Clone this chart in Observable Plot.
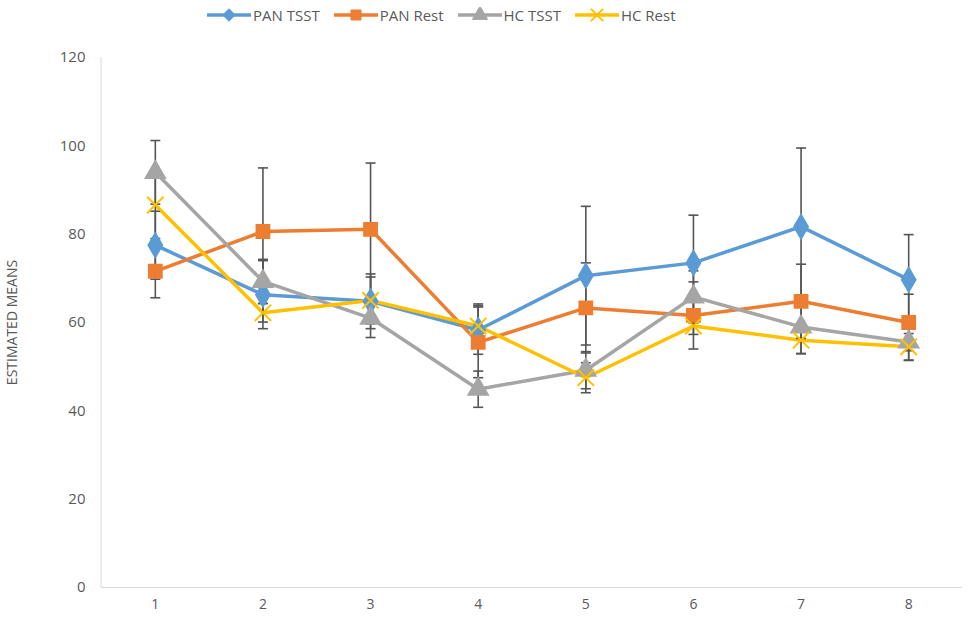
<!DOCTYPE html>
<html>
<head>
<meta charset="utf-8">
<script src="https://cdn.jsdelivr.net/npm/d3@7"></script>
<script src="https://cdn.jsdelivr.net/npm/@observablehq/plot@0.6"></script>
<style>
  html, body { margin: 0; padding: 0; background: #fff; }
  body { width: 976px; height: 617px; overflow: hidden; font-family: "Open Sans", "Liberation Sans", sans-serif; color: #595959; }
  #legend { height: 30px; display: flex; align-items: center; padding-left: 207px; box-sizing: border-box; font-size: 15px; }
  .item { display: flex; align-items: center; margin-right: 14px; }
  .item svg { margin-right: 2px; }
</style>
</head>
<body>
<div id="legend"></div>
<div id="chart"></div>
<script>
const categories = [1, 2, 3, 4, 5, 6, 7, 8];
const seriesNames = ["PAN TSST", "PAN Rest", "HC TSST", "HC Rest"];
const panTsst = [77.5, 66.3, 64.8, 58.3, 70.6, 73.5, 81.7, 69.7];
const panRest = [71.6, 80.6, 81.1, 55.5, 63.3, 61.6, 64.8, 60.0];
const hcTsst  = [94.0, 69.3, 61.0, 44.9, 49.2, 65.8, 59.0, 55.6];
const hcRest  = [86.6, 62.2, 65.0, 59.2, 47.5, 59.2, 56.0, 54.5];
const panTsstErr = [7.7, 7.7, 6.2, 5.5, 15.7, 10.8, 17.8, 10.2];
const panRestErr = [6.0, 14.4, 15.0, 8.0, 10.2, 7.6, 8.4, 6.4];
const hcTsstErr  = [7.2, 5.0, 4.4, 4.1, 4.2, 5.9, 6.1, 4.2];
const hcRestErr  = [7.6, 2.1, 5.3, 5.0, 3.4, 1.9, 3.0, 3.0];
const yTicks = [0, 20, 40, 60, 80, 100, 120];

const colors = ["#5B9BD5", "#ED7D31", "#A5A5A5", "#FFC000"];
const symbols = ["diamond", "square", "triangle", "times"];
const values = [panTsst, panRest, hcTsst, hcRest];
const errs = [panTsstErr, panRestErr, hcTsstErr, hcRestErr];

const data = [];
seriesNames.forEach((s, i) => {
  categories.forEach((c, j) => {
    data.push({series: s, x: c, y: values[i][j], lo: values[i][j] - errs[i][j], hi: values[i][j] + errs[i][j]});
  });
});

const capSymbol = {
  draw(context, size) {
    const w = 5;
    context.moveTo(-w, 0);
    context.lineTo(w, 0);
  }
};

const colorScale = {domain: seriesNames, range: colors};
const symbolScale = {domain: seriesNames, range: symbols};

const chart = Plot.plot({
  width: 976,
  height: 587,
  marginTop: 27,
  marginBottom: 30,
  marginLeft: 101,
  marginRight: 14,
  style: {fontFamily: "'Open Sans', 'Liberation Sans', sans-serif", fontSize: "15px", color: "#595959", background: "#fff"},
  x: {type: "point", domain: categories, padding: 0.5, round: false},
  y: {domain: [0, 120], ticks: yTicks},
  color: colorScale,
  symbol: symbolScale,
  marks: [
    Plot.ruleY([0], {stroke: "#d9d9d9", strokeWidth: 1}),
    Plot.axisY({ticks: yTicks, tickSize: 0, tickPadding: 16, label: null, fontSize: 15}),
    Plot.axisX({tickSize: 0, tickPadding: 12, label: null, fontSize: 14}),
    Plot.text(["ESTIMATED MEANS"], {frameAnchor: "left", textAnchor: "middle", rotate: -90, dx: -89, fontSize: 14, fill: "#595959"}),
    ...seriesNames.map((s, i) =>
      Plot.line(data.filter(d => d.series === s), {x: "x", y: "y", stroke: colors[i], strokeWidth: 3.5, strokeLinejoin: "round"})
    ),
    Plot.ruleX(data, {x: "x", y1: "lo", y2: "hi", stroke: "#555555", strokeWidth: 1.6}),
    Plot.dot(data, {x: "x", y: "lo", symbol: capSymbol, stroke: "#555555", strokeWidth: 1.6, fill: "none"}),
    Plot.dot(data, {x: "x", y: "hi", symbol: capSymbol, stroke: "#555555", strokeWidth: 1.6, fill: "none"}),
    Plot.dot(data.filter(d => d.series !== "HC Rest"), {x: "x", y: "y", symbol: "series", fill: "series", stroke: "series", r: 7.5}),
    Plot.dot(data.filter(d => d.series === "HC Rest"), {x: "x", y: "y", symbol: "series", stroke: "series", strokeWidth: 2, r: 7.5})
  ]
});

d3.select(chart).append("line")
  .attr("x1", 101).attr("x2", 101).attr("y1", 27).attr("y2", 557)
  .attr("stroke", "#d9d9d9");

document.getElementById("chart").appendChild(chart);

// legend
const legend = d3.select("#legend");
seriesNames.forEach((s, i) => {
  const item = legend.append("div").attr("class", "item");
  const sv = item.append("svg").attr("width", 44).attr("height", 16);
  sv.append("line").attr("x1", 0).attr("x2", 44).attr("y1", 8).attr("y2", 8)
    .attr("stroke", colors[i]).attr("stroke-width", 3.5);
  const sym = d3.symbol().type({diamond: d3.symbolDiamond2, square: d3.symbolSquare, triangle: d3.symbolTriangle, times: d3.symbolTimes}[symbols[i]]).size(100);
  sv.append("path").attr("d", sym()).attr("transform", "translate(22,8)")
    .attr("fill", symbols[i] === "times" ? "none" : colors[i])
    .attr("stroke", colors[i]).attr("stroke-width", symbols[i] === "times" ? 2 : 1);
  item.append("span").text(s);
});
</script>
</body>
</html>
